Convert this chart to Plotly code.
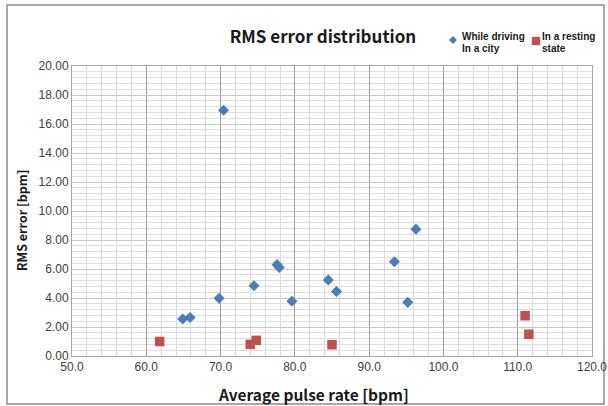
import plotly.graph_objects as go

# Data
driving_x = [70.4, 96.3, 93.4, 77.6, 77.9, 74.5, 69.8, 64.9, 65.9, 79.6, 84.5, 85.6, 95.2]
driving_y = [16.95, 8.75, 6.5, 6.3, 6.1, 4.85, 3.98, 2.55, 2.65, 3.77, 5.25, 4.45, 3.7]
resting_x = [61.8, 74.0, 74.8, 85.0, 111.0, 111.5]
resting_y = [1.0, 0.8, 1.08, 0.78, 2.78, 1.5]

legend_lines = [["While driving", "In a city"], ["In a resting", "state"]]
title_text = "RMS error distribution"
x_title = "Average pulse rate [bpm]"
y_title = "RMS error [bpm]"

BLUE = "#4a7ebb"
RED = "#c0504d"
TFONT = "Noto Sans CJK KR, DejaVu Sans Condensed, sans-serif"
FONT = "Liberation Sans, Arial, sans-serif"

L, R, T, B = 72, 16, 66, 50
PW, PH = 608 - L - R, 406 - T - B


def px(x):
    return (x - L) / PW


def py(y):
    return (406 - B - y) / PH


fig = go.Figure()
fig.add_trace(go.Scatter(
    x=driving_x, y=driving_y, mode="markers", name=" ".join(legend_lines[0]),
    marker=dict(symbol="diamond", size=8.5, color=BLUE, line=dict(width=0)),
))
fig.add_trace(go.Scatter(
    x=resting_x, y=resting_y, mode="markers", name=" ".join(legend_lines[1]),
    marker=dict(symbol="square", size=9.5, color=RED, line=dict(width=0)),
))

fig.update_layout(
    width=608, height=406,
    margin=dict(l=L, r=R, t=T, b=B, autoexpand=False),
    paper_bgcolor="white", plot_bgcolor="white",
    font=dict(family=FONT, color="#404040"),
    title=dict(text="<b>" + title_text + "</b>", x=323 / 608, xanchor="center",
               y=1 - 37 / 406, yanchor="middle",
               font=dict(size=17, color="#1a1a1a", family=TFONT)),
    showlegend=False,
)

fig.update_xaxes(
    range=[50, 120], dtick=10, tick0=50, tickformat=".1f",
    showgrid=True, gridcolor="#a0a0a0", gridwidth=1,
    minor=dict(dtick=2, showgrid=True, gridcolor="#dadada", gridwidth=1),
    showline=True, linecolor="#a6a6a6", mirror=True,
    ticks="", zeroline=False, automargin=False,
    tickfont=dict(size=12, color="#404040"),
)
fig.update_yaxes(
    range=[0, 20], dtick=2, tick0=0, tickformat=".2f",
    showgrid=True, gridcolor="#c8c8c8", gridwidth=1,
    minor=dict(dtick=0.4, showgrid=True, gridcolor="#dedede", gridwidth=1),
    showline=True, linecolor="#a6a6a6", mirror=True,
    ticks="", zeroline=False, automargin=False,
    tickfont=dict(size=12, color="#404040"),
)

# Axis titles
fig.add_annotation(xref="paper", yref="paper", x=px(313), y=py(394),
                   xanchor="center", yanchor="middle", showarrow=False,
                   text="<b>" + x_title + "</b>",
                   font=dict(size=15.5, color="#1a1a1a", family=TFONT))
fig.add_annotation(xref="paper", yref="paper", x=px(21), y=py(220),
                   xanchor="center", yanchor="middle", showarrow=False, textangle=-90,
                   text="<b>" + y_title + "</b>",
                   font=dict(size=12.5, color="#1a1a1a", family=TFONT))

# Legend drawn manually (symbols + text)
fig.add_shape(type="path", xref="paper", yref="paper", xsizemode="pixel", ysizemode="pixel",
              xanchor=px(453), yanchor=py(40),
              path="M 0 4 L 4 0 L 0 -4 L -4 0 Z", fillcolor=BLUE, line=dict(width=0))
fig.add_shape(type="rect", xref="paper", yref="paper", xsizemode="pixel", ysizemode="pixel",
              xanchor=px(536), yanchor=py(41), x0=-4.2, x1=4.2, y0=-4.2, y1=4.2,
              fillcolor=RED, line=dict(width=0))
for lx, lines in ((460, legend_lines[0]), (540, legend_lines[1])):
    for ly, line in zip((36, 48), lines):
        fig.add_annotation(xref="paper", yref="paper", x=px(lx), y=py(ly), xanchor="left",
                           yanchor="middle", align="left", showarrow=False,
                           text="<b>" + line + "</b>",
                           font=dict(size=10, color="#1a1a1a", family=FONT))

# Outer chart border
fig.add_shape(type="rect", xref="paper", yref="paper",
              x0=px(7), x1=px(604), y0=py(404), y1=py(5),
              line=dict(color="#8c8c8c", width=1.5), fillcolor="rgba(0,0,0,0)", layer="below")

fig.write_html("out.html")
